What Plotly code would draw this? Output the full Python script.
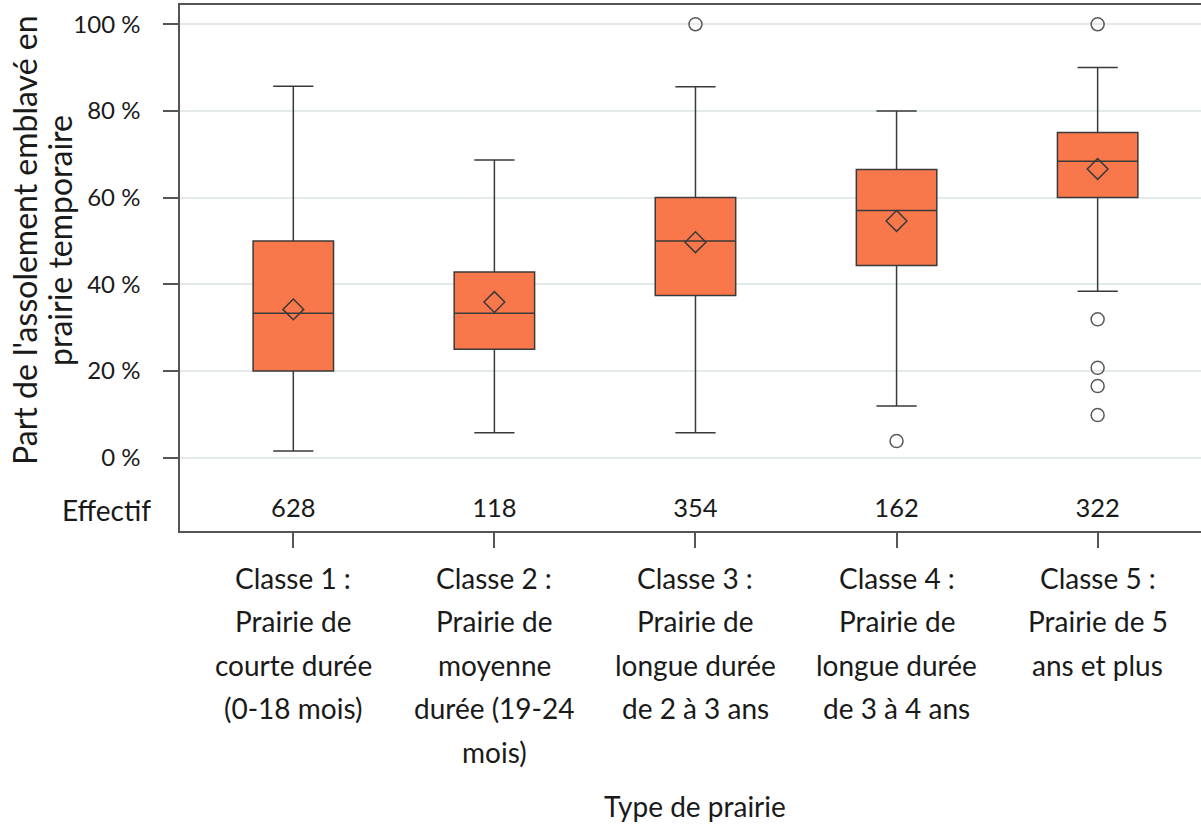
import plotly.graph_objects as go

categories = ["Classe 1", "Classe 2", "Classe 3", "Classe 4", "Classe 5"]
cat_labels = [
    ["Classe 1 :", "Prairie de", "courte durée", "(0-18 mois)"],
    ["Classe 2 :", "Prairie de", "moyenne", "durée (19-24", "mois)"],
    ["Classe 3 :", "Prairie de", "longue durée", "de 2 à 3 ans"],
    ["Classe 4 :", "Prairie de", "longue durée", "de 3 à 4 ans"],
    ["Classe 5 :", "Prairie de 5", "ans et plus"],
]
q1 = [20.0, 25.0, 37.4, 44.3, 60.0]
median = [33.3, 33.3, 50.0, 57.0, 68.4]
q3 = [50.0, 42.8, 60.0, 66.5, 75.0]
lowerfence = [1.5, 5.7, 5.7, 11.9, 38.4]
upperfence = [85.7, 68.7, 85.6, 80.0, 90.0]
means = [34.2, 35.9, 49.7, 54.6, 66.6]
outlier_cat = ["Classe 3", "Classe 4", "Classe 5", "Classe 5", "Classe 5", "Classe 5", "Classe 5"]
outlier_val = [100.0, 3.8, 100.0, 31.9, 20.7, 16.5, 9.8]
effectifs = [628, 118, 354, 162, 322]
ytick_vals = [0, 20, 40, 60, 80, 100]
ytick_text = ["0 %", "20 %", "40 %", "60 %", "80 %", "100 %"]
ytitle_lines = ["Part de l'assolement emblavé en", "prairie temporaire"]

FONT = "Lato"
TXT = "#1a1a1a"
FS_LBL = 28
FS_TICK = 24
FS_NUM = 25.5
FS_YT = 32

fig = go.Figure()
fig.add_trace(go.Box(
    x=categories, q1=q1, median=median, q3=q3,
    lowerfence=lowerfence, upperfence=upperfence,
    fillcolor="#F8784B", line=dict(color="#3a3a3a", width=1.5),
    width=0.4, whiskerwidth=0.5, boxpoints=False, showlegend=False,
))
fig.add_trace(go.Scatter(
    x=categories, y=means, mode="markers",
    marker=dict(symbol="diamond-open", size=16, color="#3a3a3a", line=dict(width=1.5, color="#3a3a3a")),
    showlegend=False,
))
fig.add_trace(go.Scatter(
    x=outlier_cat, y=outlier_val, mode="markers",
    marker=dict(symbol="circle-open", size=13, color="#5a5a5a", line=dict(width=1.5, color="#5a5a5a")),
    showlegend=False,
))
fig.add_trace(go.Scatter(
    x=categories, y=[-12.2] * len(categories), mode="text",
    text=[str(e) for e in effectifs],
    textfont=dict(family=FONT, size=FS_NUM, color=TXT),
    showlegend=False,
))

annotations = []
for cat, lines in zip(categories, cat_labels):
    for i, ln in enumerate(lines):
        annotations.append(dict(
            x=cat, xref="x", y=0, yref="paper", yanchor="middle", xanchor="center",
            yshift=-(46.7 + 43.5 * i), text=ln, showarrow=False,
            font=dict(family=FONT, size=FS_LBL, color=TXT),
        ))
annotations.append(dict(
    x=categories[2], xref="x", y=0, yref="paper", yanchor="middle", xanchor="center",
    yshift=-275, text="Type de prairie", showarrow=False,
    font=dict(family=FONT, size=FS_LBL, color=TXT),
))
annotations.append(dict(
    x=0, xref="paper", y=-12.2, yref="y", xanchor="right", yanchor="middle",
    xshift=-27, text="Effectif", showarrow=False,
    font=dict(family=FONT, size=FS_LBL, color=TXT),
))
for i, ln in enumerate(ytitle_lines):
    annotations.append(dict(
        x=0, xref="paper", y=50, yref="y", xanchor="center", yanchor="middle",
        xshift=-155 + 35 * i, textangle=-90,
        text=ln, showarrow=False,
        font=dict(family=FONT, size=FS_YT, color=TXT),
    ))

fig.update_layout(
    width=1201, height=827,
    margin=dict(l=180, r=0, t=5, b=296),
    plot_bgcolor="white", paper_bgcolor="white",
    font=dict(family=FONT, size=FS_TICK, color=TXT),
    annotations=annotations,
    xaxis=dict(
        type="category", categoryorder="array", categoryarray=categories,
        range=[-0.5635, 4.514],
        showline=True, linecolor="#555555", linewidth=1.5, mirror=True,
        ticks="outside", ticklen=15, tickcolor="#555555", tickwidth=1.5,
        showticklabels=False, showgrid=False, zeroline=False,
    ),
    yaxis=dict(
        range=[-16.95, 104.45],
        tickvals=ytick_vals, ticktext=ytick_text,
        showline=True, linecolor="#555555", linewidth=1.5,
        ticks="outside", ticklen=15, tickcolor="#555555", tickwidth=1.5,
        ticklabelstandoff=18,
        showgrid=True, gridcolor="#e4eaea", gridwidth=1.5, zeroline=False,
        tickfont=dict(family=FONT, size=FS_TICK, color=TXT),
    ),
)

fig.write_html("out.html")
